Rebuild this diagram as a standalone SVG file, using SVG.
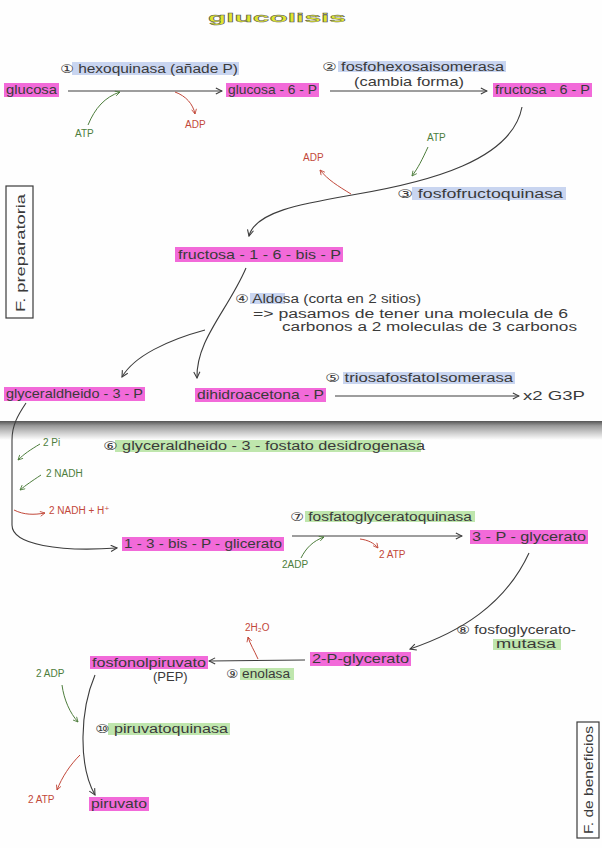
<svg xmlns="http://www.w3.org/2000/svg" width="602" height="848" viewBox="0 0 602 848">
<style>
text{font-family:"Liberation Sans","DejaVu Sans",sans-serif;fill:#3a3a3a;font-size:13px}
.pk{fill:#f26ad9}
.bl{fill:#c9d5f0}
.gr{fill:#bfe6ad}
.ln{fill:none;stroke:#3c3c3c;stroke-width:1.1}
.g{fill:none;stroke:#4d7d3c;stroke-width:1}
.r{fill:none;stroke:#c2483a;stroke-width:1}
.tg{fill:#4d7d3c;font-size:10px}
.tr{fill:#c2483a;font-size:10px}
.sm{font-size:12px}
.box{fill:none;stroke:#3a3a3a;stroke-width:1.2}
</style>
<defs>
<marker id="ak" viewBox="0 0 10 10" refX="9" refY="5" markerWidth="7" markerHeight="7" orient="auto"><path d="M1,1 L9,5 L1,9" fill="none" stroke="#3c3c3c" stroke-width="1.4"/></marker>
<marker id="ag" viewBox="0 0 10 10" refX="9" refY="5" markerWidth="6" markerHeight="6" orient="auto"><path d="M1,1 L9,5 L1,9" fill="none" stroke="#4d7d3c" stroke-width="1.4"/></marker>
<marker id="ar" viewBox="0 0 10 10" refX="9" refY="5" markerWidth="6" markerHeight="6" orient="auto"><path d="M1,1 L9,5 L1,9" fill="none" stroke="#c2483a" stroke-width="1.4"/></marker>
<linearGradient id="fold" x1="0" y1="0" x2="0" y2="1">
<stop offset="0" stop-color="#555"/><stop offset="0.25" stop-color="#9a9a9a"/><stop offset="0.7" stop-color="#d8d8d8"/><stop offset="1" stop-color="#ffffff"/>
</linearGradient>
</defs>
<rect width="602" height="848" fill="#fefefe"/>
<rect x="0" y="421" width="602" height="19" fill="url(#fold)"/>

<g id="title">
<text x="208" y="22" font-size="38" style="fill:#dfe52e;font-weight:bold;stroke:#555;stroke-width:0.4" textLength="138" lengthAdjust="spacingAndGlyphs">glucolisis</text>
</g>

<g id="connectors">
<path class="ln" d="M68,91 L222,91" marker-end="url(#ak)"/>
<path class="g" d="M88,125 C95,108 105,97 120,92" marker-end="url(#ag)"/>
<path class="r" d="M175,92 C186,96 193,104 195,114" marker-end="url(#ar)"/>
<path class="ln" d="M330,91 L487,91" marker-end="url(#ak)"/>
<path class="ln" d="M522,107 C512,160 430,182 352,195 C300,204 255,212 249,236" marker-end="url(#ak)"/>
<path class="g" d="M428,147 C422,160 418,168 412,176" marker-end="url(#ag)"/>
<path class="r" d="M351,194 C338,186 328,180 320,170" marker-end="url(#ar)"/>
<path class="ln" d="M246,268 C228,310 196,340 197,378" marker-end="url(#ak)"/>
<path class="ln" d="M205,330 C168,340 134,356 122,377" marker-end="url(#ak)"/>
<path class="ln" d="M335,396 L519,396" marker-end="url(#ak)"/>
<path class="ln" d="M26,403 C18,415 12,425 12,440 L12,525 C12,545 60,552 117,548" marker-end="url(#ak)"/>
<path class="g" d="M40,444 C30,450 24,454 18,460" marker-end="url(#ag)"/>
<path class="g" d="M41,475 C32,481 26,485 20,490" marker-end="url(#ag)"/>
<path class="r" d="M14,510 C24,515 34,515 45,513" marker-end="url(#ar)"/>
<path class="ln" d="M292,536 L462,536" marker-end="url(#ak)"/>
<path class="g" d="M301,558 C306,548 313,541 324,537" marker-end="url(#ag)"/>
<path class="r" d="M360,539 C368,540 374,543 378,548" marker-end="url(#ar)"/>
<path class="ln" d="M529,553 C505,605 460,632 410,649" marker-end="url(#ak)"/>
<path class="ln" d="M305,660 L209,661" marker-end="url(#ak)"/>
<path class="r" d="M258,659 C254,650 250,644 248,637" marker-end="url(#ar)"/>
<path class="ln" d="M95,675 C80,710 78,765 95,795" marker-end="url(#ak)"/>
<path class="g" d="M62,685 C64,700 70,713 78,722" marker-end="url(#ag)"/>
<path class="r" d="M80,755 C70,765 62,777 57,790" marker-end="url(#ar)"/>
</g>

<g id="glucosa"><rect class="pk" x="4" y="83" width="55" height="14"/><text x="6" y="94" textLength="51" lengthAdjust="spacingAndGlyphs">glucosa</text></g>
<g id="hexoquinasa"><rect class="bl" x="72" y="62" width="167" height="13"/><text x="60" y="73" class="sm" textLength="178" lengthAdjust="spacingAndGlyphs">① hexoquinasa (añade P)</text></g>
<g id="atp1"><text x="75" y="137" class="tg">ATP</text></g>
<g id="adp1"><text x="185" y="128" class="tr">ADP</text></g>
<g id="glucosa6p"><rect class="pk" x="226" y="83" width="93" height="14"/><text x="228" y="94" textLength="89" lengthAdjust="spacingAndGlyphs">glucosa - 6 - P</text></g>
<g id="isomerasa"><rect class="bl" x="338" y="61" width="168" height="11"/><text x="322" y="71" class="sm" textLength="182" lengthAdjust="spacingAndGlyphs">② fosfohexosaisomerasa</text><text x="354" y="86" font-size="10" textLength="110" lengthAdjust="spacingAndGlyphs">(cambia forma)</text></g>
<g id="fructosa6p"><rect class="pk" x="493" y="83" width="99" height="14"/><text x="495" y="94" textLength="95" lengthAdjust="spacingAndGlyphs">fructosa - 6 - P</text></g>
<g id="atp2"><text x="427" y="141" class="tg">ATP</text></g>
<g id="adp2"><text x="303" y="161" class="tr">ADP</text></g>
<g id="pfk"><rect class="bl" x="412" y="187" width="154" height="13"/><text x="397" y="198" class="sm" textLength="166" lengthAdjust="spacingAndGlyphs">③ fosfofructoquinasa</text></g>
<g id="fructosa16bp"><rect class="pk" x="175" y="247" width="168" height="15"/><text x="178" y="259" textLength="163" lengthAdjust="spacingAndGlyphs">fructosa - 1 - 6 - bis - P</text></g>
<g id="prep"><rect class="box" x="6" y="186" width="27" height="132"/><text transform="translate(25,312) rotate(-90)" font-size="12" textLength="118" lengthAdjust="spacingAndGlyphs">F. preparatoria</text></g>
<g id="aldosa"><rect class="bl" x="250" y="293" width="35" height="11"/><text x="235" y="303" class="sm" textLength="186" lengthAdjust="spacingAndGlyphs">④ Aldosa (corta en 2 sitios)</text><text x="253" y="318" class="sm" textLength="315" lengthAdjust="spacingAndGlyphs">=&gt; pasamos de tener una molecula de 6</text><text x="282" y="331" class="sm" textLength="295" lengthAdjust="spacingAndGlyphs">carbonos a 2 moleculas de 3 carbonos</text></g>
<g id="g3p"><rect class="pk" x="4" y="387" width="141" height="14"/><text x="6" y="398" textLength="137" lengthAdjust="spacingAndGlyphs">glyceraldheido - 3 - P</text></g>
<g id="dhap"><rect class="pk" x="195" y="388" width="131" height="14"/><text x="197" y="399" textLength="127" lengthAdjust="spacingAndGlyphs">dihidroacetona - P</text></g>
<g id="tpi"><rect class="bl" x="343" y="372" width="172" height="12"/><text x="325" y="382" class="sm" textLength="188" lengthAdjust="spacingAndGlyphs">⑤ triosafosfatoIsomerasa</text></g>
<g id="x2g3p"><text x="523" y="400" font-size="12" textLength="62" lengthAdjust="spacingAndGlyphs">x2  G3P</text></g>
<g id="gapdh"><rect class="gr" x="115" y="440" width="306" height="12"/><text x="103" y="450" class="sm" textLength="322" lengthAdjust="spacingAndGlyphs">⑥ glyceraldheido - 3 - fostato desidrogenasa</text></g>
<g id="pi"><text x="43" y="446" class="tg">2 Pi</text></g>
<g id="nadh"><text x="46" y="477" class="tg">2 NADH</text></g>
<g id="nadhh"><text x="49" y="514" class="tr">2 NADH + H⁺</text></g>
<g id="bpg13"><rect class="pk" x="122" y="537" width="162" height="14"/><text x="124" y="548" textLength="158" lengthAdjust="spacingAndGlyphs">1 - 3 - bis - P - glicerato</text></g>
<g id="pgk"><rect class="gr" x="305" y="511" width="170" height="11"/><text x="290" y="521" class="sm" textLength="182" lengthAdjust="spacingAndGlyphs">⑦ fosfatoglyceratoquinasa</text></g>
<g id="adp3"><text x="282" y="568" class="tg">2ADP</text></g>
<g id="atp3"><text x="379" y="558" class="tr">2 ATP</text></g>
<g id="pg3"><rect class="pk" x="470" y="530" width="118" height="14"/><text x="472" y="541" textLength="114" lengthAdjust="spacingAndGlyphs">3 - P - glycerato</text></g>
<g id="mutasa"><rect class="gr" x="493" y="639" width="68" height="11"/><text x="456" y="634" class="sm" textLength="120" lengthAdjust="spacingAndGlyphs">⑧ fosfoglycerato-</text><text x="496" y="648" class="sm" textLength="60" lengthAdjust="spacingAndGlyphs">mutasa</text></g>
<g id="pg2"><rect class="pk" x="310" y="652" width="101" height="14"/><text x="312" y="663" textLength="97" lengthAdjust="spacingAndGlyphs">2-P-glycerato</text></g>
<g id="h2o"><text x="245" y="631" class="tr">2H₂O</text></g>
<g id="enolasa"><rect class="gr" x="240" y="668" width="54" height="12"/><text x="226" y="678" class="sm" textLength="64" lengthAdjust="spacingAndGlyphs">⑨ enolasa</text></g>
<g id="pep"><rect class="pk" x="90" y="656" width="118" height="13"/><text x="92" y="667" textLength="114" lengthAdjust="spacingAndGlyphs">fosfonolpiruvato</text><text x="153" y="681" font-size="10">(PEP)</text></g>
<g id="adp4"><text x="36" y="677" class="tg">2 ADP</text></g>
<g id="pk_enz"><rect class="gr" x="108" y="723" width="122" height="12"/><text x="95" y="733" class="sm" textLength="133" lengthAdjust="spacingAndGlyphs">⑩ piruvatoquinasa</text></g>
<g id="atp4"><text x="28" y="803" class="tr">2 ATP</text></g>
<g id="piruvato"><rect class="pk" x="89" y="797" width="60" height="14"/><text x="91" y="808" textLength="56" lengthAdjust="spacingAndGlyphs">piruvato</text></g>
<g id="benef"><rect class="box" x="577" y="722" width="22" height="116"/><text transform="translate(593,834) rotate(-90)" font-size="11" textLength="108" lengthAdjust="spacingAndGlyphs">F. de beneficios</text></g>
</svg>
